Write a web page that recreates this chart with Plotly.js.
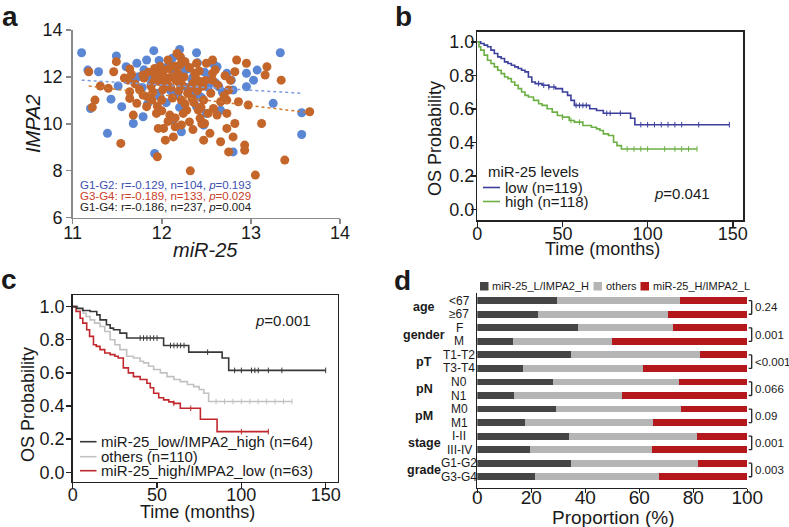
<!DOCTYPE html>
<html><head><meta charset="utf-8">
<script src="https://cdn.plot.ly/plotly-3.0.1.min.js"></script>
<style>html,body{margin:0;padding:0;background:#fff}#chart{width:789px;height:527px}</style>
</head><body><div id="chart"></div>
<script>
// ---------- Panel a: scatter ----------
const blueX = [11.10,11.17,11.29,11.49,11.20,11.43,11.51,11.55,11.39,11.68,11.60,11.72,11.83,11.91,11.79,11.92,12.20,12.39,12.34,12.22,12.50,12.47,12.62,12.73,12.78,12.80,12.95,12.95,13.07,13.03,13.25,13.33,13.57,13.57,12.66,11.94,12.05,12.13,12.26,11.98,12.43,11.76,11.83,12.80,12.64,11.74,12.39,12.13,
  11.80,11.86,11.92,12.00,12.08,12.15,12.22,12.30,12.35,12.42,12.48,12.55,12.03,12.10,12.18,11.95,11.88,11.78,12.28,12.36,12.45,12.52,12.60,12.68,11.70,12.25,12.12,11.97,12.58,12.40,12.05,12.20,11.84];
const blueY = [13.03,12.29,12.22,12.89,10.65,11.05,11.61,10.73,9.59,10.01,12.43,12.58,12.72,13.12,10.30,8.73,13.17,13.03,11.86,9.66,10.44,9.94,12.43,12.15,11.86,8.80,12.15,11.58,12.29,11.86,10.87,13.03,10.47,9.54,10.58,12.01,11.72,11.30,12.29,11.15,11.15,11.51,12.01,11.44,11.58,12.01,10.73,10.16,
  12.30,12.10,11.95,12.40,12.55,12.20,11.90,12.35,12.00,11.80,12.20,11.95,11.60,11.40,11.20,11.30,11.70,11.55,11.55,11.30,11.10,11.55,11.75,11.35,11.90,12.65,12.80,12.70,12.55,12.60,10.90,10.70,10.85];
const orangeX = [11.18,11.25,11.22,11.31,11.40,11.49,11.46,11.54,11.64,11.62,11.64,11.64,11.68,11.72,11.79,11.79,11.83,11.89,11.91,11.92,11.94,11.96,11.95,12.02,12.04,12.00,12.02,12.09,12.04,12.07,12.11,12.13,12.15,12.17,12.20,12.20,12.22,12.24,12.28,12.31,12.32,12.34,12.35,12.37,12.39,12.43,12.41,12.43,12.47,12.47,12.50,12.48,12.54,12.57,12.57,12.57,12.62,12.66,12.66,12.73,12.73,12.73,12.75,12.75,12.77,12.80,12.82,12.84,12.82,12.86,12.93,12.93,12.95,12.97,13.05,13.12,13.16,13.18,13.34,13.38,13.66,
  11.75,11.80,11.85,11.88,11.90,11.93,11.97,11.99,12.01,12.03,12.06,12.08,12.10,12.12,12.14,12.16,12.18,12.19,12.21,12.23,12.25,12.26,12.29,12.31,12.33,12.36,12.38,12.40,12.42,12.44,12.46,12.49,12.52,12.55,12.60,12.63,12.70,12.71,11.84,11.95,12.00,12.07,12.15,12.22,12.35,11.70,11.66,11.58,12.45,12.58,11.98,12.26];
const orangeY = [12.22,11.01,10.70,11.61,11.51,12.65,12.22,9.16,12.34,11.86,11.37,11.08,10.37,10.87,11.22,12.08,10.73,11.01,11.79,12.36,10.44,9.80,8.59,12.29,11.58,11.01,9.80,10.37,9.30,12.72,12.01,9.44,9.87,13.00,12.50,11.72,11.01,10.44,10.58,10.08,7.99,11.08,11.72,12.15,12.58,11.79,10.58,10.23,11.01,9.30,12.58,10.01,9.59,12.72,12.15,11.86,10.37,10.94,9.23,11.01,10.44,9.80,11.44,8.80,11.86,9.44,10.01,12.72,12.22,10.94,9.09,8.87,12.58,10.80,7.81,10.01,12.08,12.43,11.86,8.45,10.51,
  11.45,11.95,12.20,11.60,11.35,12.05,11.80,12.15,11.45,12.00,11.75,12.35,11.55,11.10,12.45,11.85,12.15,11.40,12.85,11.65,12.00,10.85,11.30,12.40,11.55,10.90,11.95,11.40,12.25,10.70,11.60,11.85,10.45,11.30,12.30,11.65,11.20,12.05,11.15,10.75,10.55,10.10,10.25,9.95,9.75,11.70,12.10,11.95,10.00,10.65,12.45,12.65];
const fitBlueX = [11.10, 13.57], fitBlueY = [11.86, 11.30];
const fitOrangeX = [11.18, 13.66], fitOrangeY = [11.61, 10.47];

// ---------- Panel b: KM by miR-25 ----------
const lowT = [0,2,4,6,8,10,12,14,16,18,20,22,24,26,28,30,32,34,38,42,46,50,53,55,57,66,70,74,90,92.5,148];
const lowS = [1.0,0.99,0.98,0.97,0.95,0.93,0.91,0.90,0.88,0.87,0.86,0.85,0.84,0.83,0.82,0.79,0.76,0.75,0.74,0.73,0.72,0.70,0.68,0.65,0.62,0.60,0.59,0.573,0.543,0.505,0.505];
const lowC = [36,39,42,45,58,60,62,64,76,78,84,96,100,104,108,112,116,120,130,148];
const highT = [0,1,2,4,6,8,10,12,14,16,18,20,22,24,26,28,30,33,36,38,41,44,47,50,54,57,62,67,70,72,74,77,80,82,84.6,129];
const highS = [1.0,0.97,0.95,0.92,0.89,0.87,0.85,0.83,0.81,0.79,0.78,0.76,0.74,0.72,0.70,0.68,0.67,0.65,0.63,0.62,0.60,0.58,0.56,0.55,0.53,0.52,0.50,0.49,0.48,0.47,0.45,0.44,0.40,0.38,0.36,0.36];
const highC = [50,55,60,88,92,96,100,110,116,120,124,129];

// ---------- Panel c: KM by combination ----------
const blackT = [0,2.4,6,10.3,14.3,16.2,20,22.2,24.2,28,32,53.9,68.8,88.6,92.5,150];
const blackS = [1.0,0.99,0.976,0.97,0.95,0.92,0.89,0.87,0.86,0.84,0.81,0.765,0.725,0.69,0.615,0.615];
const blackC = [40,42,44,46,48,50,58,60,62,64,66,80,96,100,106,108,110,116,124,150];
const grayT = [0,3,6.3,8,10.3,13,16.2,19,22.2,25,28,32,36,40,42,45,48,52,55.9,60,63.8,68,71.7,75,77.7,80.6,130.2];
const grayS = [1.0,0.98,0.96,0.94,0.92,0.90,0.88,0.85,0.80,0.77,0.74,0.70,0.69,0.67,0.66,0.64,0.62,0.60,0.577,0.56,0.547,0.53,0.517,0.50,0.477,0.427,0.427];
const grayC = [85,90,95,100,105,110,115,120,125,130];
const redT = [0,2,4.4,6,8.3,10,12.3,14,16.2,19,22.2,25,27,30,33,36,40,44,46,48,51,53.9,57,59.8,63.8,75.7,85.6,116.3];
const redS = [1.0,0.97,0.93,0.90,0.86,0.82,0.77,0.76,0.74,0.72,0.71,0.70,0.69,0.63,0.60,0.577,0.56,0.537,0.51,0.477,0.45,0.437,0.425,0.416,0.386,0.32,0.245,0.245];
const redC = [60,70,100,116];

// ---------- Panel d: proportions ----------
const subLabels = ["<67","≥67","F","M","T1-T2","T3-T4","N0","N1","M0","M1","I-II","III-IV","G1-G2","G3-G4"];
const darkPct   = [29.6,22.3,37.4,13.2,34.7,17.0,28.1,13.5,29.0,17.5,34.1,19.5,34.7,21.2];
const othersPct = [45.5,48.2,35.2,36.8,47.9,44.5,46.7,40.0,46.3,47.6,47.4,45.3,47.2,46.0];
const redPct    = [24.9,29.5,27.4,50.0,17.4,38.5,25.2,46.5,24.7,34.9,18.5,35.2,18.1,32.8];
const groupLabels = ["age","gender","pT","pN","pM","stage","grade"];
const pValues = ["0.24","0.001","<0.001","0.066","0.09","0.001","0.003"];
const dSeriesNames = ["miR-25_L/IMPA2_H","others","miR-25_H/IMPA2_L"];

// ---------- helpers ----------
const W = 789, H = 527;
const PX = x => x / W, PY = y => 1 - y / H;
const FONT = "Liberation Sans, Arial, Helvetica, sans-serif";
const stepAt = (T, S, t) => { let v = S[0]; for (let i = 0; i < T.length; i++) { if (T[i] <= t) v = S[i]; } return v; };
const rowIdx = subLabels.map((_, i) => i);

const traces = [];
// panel a
traces.push({x: blueX, y: blueY, xaxis:'x', yaxis:'y', mode:'markers', marker:{color:'#5a86d4', size:9}, showlegend:false});
traces.push({x: orangeX, y: orangeY, xaxis:'x', yaxis:'y', mode:'markers', marker:{color:'#c4652a', size:9}, showlegend:false});
traces.push({x: fitBlueX, y: fitBlueY, xaxis:'x', yaxis:'y', mode:'lines', line:{color:'#7c9be0', width:1.5, dash:'dot'}, showlegend:false});
traces.push({x: fitOrangeX, y: fitOrangeY, xaxis:'x', yaxis:'y', mode:'lines', line:{color:'#d0772e', width:1.5, dash:'dot'}, showlegend:false});

function km(T, S, C, color, xa, ya) {
  traces.push({x: T, y: S, xaxis: xa, yaxis: ya, mode:'lines', line:{shape:'hv', color: color, width: 1.6}, showlegend:false});
  traces.push({x: C, y: C.map(t => stepAt(T, S, t)), xaxis: xa, yaxis: ya, mode:'markers',
    marker:{symbol:'line-ns', size:4, line:{color: color, width:1}}, showlegend:false});
}
km(lowT, lowS, lowC, '#3c3f9c', 'x2', 'y2');
km(highT, highS, highC, '#6cb043', 'x2', 'y2');
km(grayT, grayS, grayC, '#c2c2c2', 'x3', 'y3');
km(redT, redS, redC, '#c0282d', 'x3', 'y3');
km(blackT, blackS, blackC, '#383838', 'x3', 'y3');

// panel d
const dColors = ['#454545','#b5b5b5','#b5181b'];
[darkPct, othersPct, redPct].forEach((v, k) => {
  traces.push({type:'bar', orientation:'h', x: v, y: rowIdx, xaxis:'x4', yaxis:'y4', name: dSeriesNames[k],
    marker:{color: dColors[k], line:{width:0}}, width:0.5, showlegend:false});
});

const tickFont = {family: FONT, size: 18, color:'#1a1a1a'};
const boxAxis = (extra) => Object.assign({showline:true, mirror:true, linecolor:'#222', linewidth:1.5, ticks:'outside', ticklen:5, tickwidth:1.5, tickcolor:'#222',
  showgrid:false, zeroline:false, tickfont: tickFont}, extra);

const layout = {
  width: W, height: H, margin:{l:0, r:0, t:0, b:0}, paper_bgcolor:'#fff', plot_bgcolor:'rgba(0,0,0,0)',
  font:{family: FONT, color:'#1a1a1a'}, barmode:'stack', bargap:0.5, showlegend:false,
  xaxis: {domain:[PX(72.7), PX(340)], range:[11,14], anchor:'y', showline:true, linecolor:'#8a8a8a', linewidth:1.5, ticks:'outside', ticklen:5, tickcolor:'#8a8a8a', tickwidth:1.5,
    tickvals:[11,12,13,14], showgrid:false, zeroline:false, tickfont: tickFont, ticklabelstandoff: -7},
  yaxis: {domain:[PY(217.5), PY(30)], range:[6,14], anchor:'x', showline:true, linecolor:'#8a8a8a', linewidth:1.5, ticks:'outside', ticklen:5, tickcolor:'#8a8a8a', tickwidth:1.5,
    tickvals:[6,8,10,12,14], showgrid:false, zeroline:false, tickfont: tickFont, ticklabelstandoff: 0},
  xaxis2: boxAxis({domain:[PX(477.3), PX(743)], range:[0,156], anchor:'y2', tickvals:[0,50,100,150], ticklabelstandoff: -8}),
  yaxis2: boxAxis({domain:[PY(220), PY(31.7)], range:[-0.064,1.06], anchor:'x2', tickvals:[0,0.2,0.4,0.6,0.8,1.0], tickformat:'.1f', ticklabelstandoff: -7}),
  xaxis3: boxAxis({domain:[PX(72.7), PX(337.5)], range:[0,157], anchor:'y3', tickvals:[0,50,100,150], ticklabelstandoff: -9}),
  yaxis3: boxAxis({domain:[PY(481.7), PY(295)], range:[-0.057,1.07], anchor:'x3', tickvals:[0,0.2,0.4,0.6,0.8,1.0], tickformat:'.1f', ticklabelstandoff: -2}),
  xaxis4: {domain:[PX(477.3), PX(747.3)], range:[0,100], anchor:'y4', showline:true, linecolor:'#222', linewidth:1.5, ticks:'outside', ticklen:4, tickwidth:1.5, tickcolor:'#222',
    tickvals:[0,20,40,60,80,100], showgrid:false, zeroline:false, tickfont:{family:FONT, size:19, color:'#1a1a1a'}, ticklabelstandoff: -12},
  yaxis4: {domain:[PY(487.7), PY(293)], range:[13.81,-0.57], anchor:'x4', showline:true, linecolor:'#222', linewidth:1.5, ticks:'', showticklabels:false, showgrid:false, zeroline:false},
  annotations: [], shapes: []
};
const A = layout.annotations, S = layout.shapes;
const ann = (text, x, y, size, opts) => A.push(Object.assign({text, x: PX(x), y: PY(y), xref:'paper', yref:'paper', showarrow:false,
  font:{family:FONT, size, color:'#1a1a1a'}, xanchor:'center', yanchor:'middle'}, opts || {}));

// panel letters
ann('<b>a</b>', 1, 0, 28, {xanchor:'left', yanchor:'top', borderpad:0});
ann('<b>b</b>', 394, 0, 28, {xanchor:'left', yanchor:'top', borderpad:0});
ann('<b>c</b>', 0, 263, 28, {xanchor:'left', yanchor:'top', borderpad:0});
ann('<b>d</b>', 393, 264, 28, {xanchor:'left', yanchor:'top', borderpad:0});

// panel a titles & stats
ann('<i>miR-25</i>', 205, 250, 20);
ann('<i>IMPA2</i>', 33, 124, 20, {textangle:-90});
ann('G1-G2: r=-0.129, n=104, <i>p</i>=0.193', 78, 185, 11.5, {xanchor:'left', font:{family:FONT, size:11.5, color:'#3a4fb0'}});
ann('G3-G4: r=-0.189, n=133, <i>p</i>=0.029', 78, 196, 11.5, {xanchor:'left', font:{family:FONT, size:11.5, color:'#c8402a'}});
ann('G1-G4: r=-0.186, n=237, <i>p</i>=0.004', 78, 207, 11.5, {xanchor:'left', font:{family:FONT, size:11.5, color:'#222'}});

// panel b
ann('OS Probability', 435, 139, 18, {textangle:-90});
ann('Time (months)', 602, 249, 18);
ann('<i>p</i>=0.041', 682, 193, 15);
ann('miR-25 levels', 486, 171, 15, {xanchor:'left'});
ann('low (n=119)', 503, 187.5, 15, {xanchor:'left'});
ann('high (n=118)', 503, 201.5, 15, {xanchor:'left'});
S.push({type:'line', xref:'paper', yref:'paper', x0:PX(483), x1:PX(500), y0:PY(187.5), y1:PY(187.5), line:{color:'#3c3f9c', width:1.6}});
S.push({type:'line', xref:'paper', yref:'paper', x0:PX(483), x1:PX(500), y0:PY(201.5), y1:PY(201.5), line:{color:'#6cb043', width:1.6}});

// panel c
ann('OS Probability', 28, 405, 18, {textangle:-90});
ann('Time (months)', 198, 512, 18);
ann('<i>p</i>=0.001', 283, 320, 15);
const cLeg = [['miR-25_low/IMPA2_high (n=64)','#383838',441.7],['others (n=110)','#c2c2c2',456.7],['miR-25_high/IMPA2_low (n=63)','#c0282d',470.7]];
cLeg.forEach(([t,c,y]) => {
  ann(t, 99, y, 15, {xanchor:'left'});
  S.push({type:'line', xref:'paper', yref:'paper', x0:PX(80), x1:PX(96.5), y0:PY(y), y1:PY(y), line:{color:c, width:1.6}});
});

// panel d
ann('Proportion (%)', 613, 517, 19);
const legX = [[480,490],[593.5,603.5],[640.5,650.5]];
dSeriesNames.forEach((n, k) => {
  S.push({type:'rect', xref:'paper', yref:'paper', x0:PX(legX[k][0]), x1:PX(legX[k][0]+8.5), y0:PY(290.5), y1:PY(282), fillcolor:dColors[k], line:{width:0}});
  ann(n, legX[k][1], 286, 11, {xanchor:'left'});
});
subLabels.forEach((l, i) => A.push({text:l, x:PX(459), y:i, xref:'paper', yref:'y4', showarrow:false, xanchor:'center', yanchor:'middle',
  font:{family:FONT, size:12, color:'#1a1a1a'}}));
groupLabels.forEach((g, k) => {
  A.push({text:'<b>'+g+'</b>', x:PX(424), y:2*k+0.5, xref:'paper', yref:'y4', showarrow:false, xanchor:'center', yanchor:'middle',
    font:{family:FONT, size:12.5, color:'#1a1a1a'}});
  A.push({text:pValues[k], x:PX(753.5), y:2*k+0.5, xref:'paper', yref:'y4', showarrow:false, xanchor:'left', yanchor:'middle', borderpad:0,
    font:{family:FONT, size:11.5, color:'#1a1a1a'}});
  const bx = PX(751.7), bx0 = PX(748.7);
  S.push({type:'line', xref:'paper', yref:'y4', x0:bx, x1:bx, y0:2*k, y1:2*k+1, line:{color:'#222', width:1.3}});
  S.push({type:'line', xref:'paper', yref:'y4', x0:bx0, x1:bx, y0:2*k, y1:2*k, line:{color:'#222', width:1.3}});
  S.push({type:'line', xref:'paper', yref:'y4', x0:bx0, x1:bx, y0:2*k+1, y1:2*k+1, line:{color:'#222', width:1.3}});
});

Plotly.newPlot('chart', traces, layout, {staticPlot:true, displayModeBar:false});
</script></body></html>
